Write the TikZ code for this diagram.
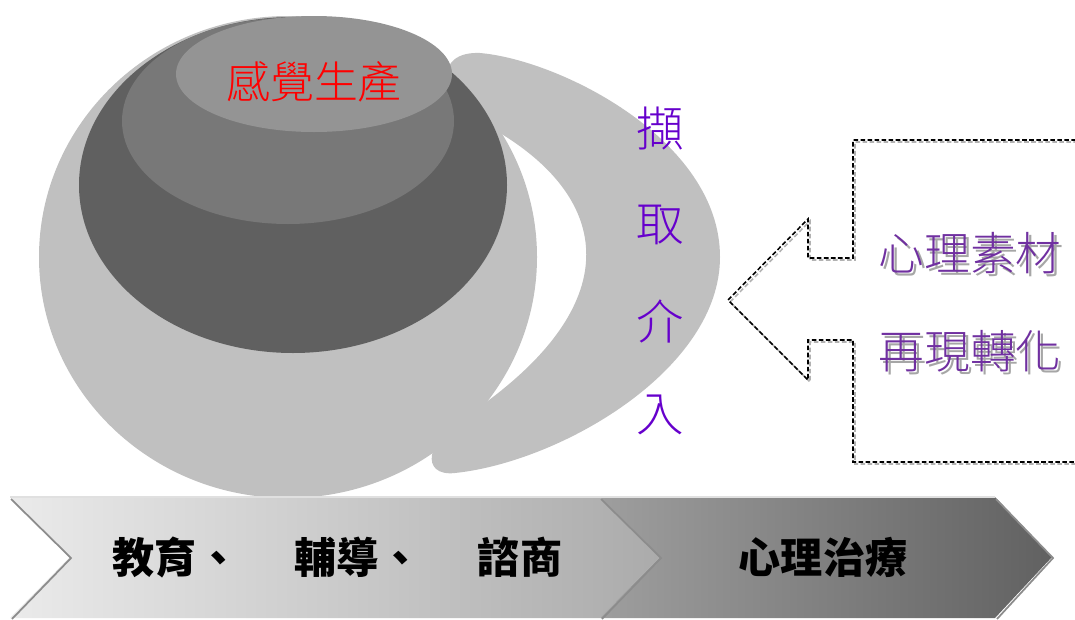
\documentclass[tikz,border=0pt]{standalone}
\usepackage{fontspec}
\newfontfamily\cjk{Noto Sans CJK TC}
\newfontfamily\cjklight{Noto Sans CJK TC Light}
\definecolor{cupgrey}{HTML}{C0C0C0}
\definecolor{darkgrey}{HTML}{606060}
\definecolor{midgrey}{HTML}{787878}
\definecolor{topgrey}{HTML}{949494}
\definecolor{vpurple}{HTML}{6600CC}
\definecolor{rpurple}{HTML}{7030A0}
\begin{document}
\begin{tikzpicture}[x=0.02cm,y=-0.02cm,
  vtext/.style={font=\cjklight\fontsize{27pt}{27pt}\selectfont, text=vpurple, inner sep=0pt},
  rtext/.style={font=\cjklight\fontsize{26pt}{26pt}\selectfont, inner sep=0pt},
  btext/.style={font=\cjk\bfseries\fontsize{24pt}{24pt}\selectfont, text=black, inner sep=0pt},
  dashline/.style={line width=0.9pt, dash pattern=on 2.6pt off 1.4pt},
  chevshadow/.style={draw=black!45, line width=1pt}]
\useasboundingbox (0,0) rectangle (1075,619);
\clip (0,0) rectangle (1075,619);

% handle
\fill[cupgrey] (447,85) .. controls (443,62) and (458,52) .. (480,53)
  .. controls (560,60) and (720,140) .. (720,257)
  .. controls (720,370) and (560,462) .. (455,473)
  .. controls (437,475) and (430,466) .. (432,455)
  -- (440,425) -- (485,403)
  .. controls (625,300) and (610,200) .. (500,133) -- cycle;
% cup body
\fill[cupgrey] (288,257) ellipse [x radius=249, y radius=241];
\fill[darkgrey] (293,185) ellipse [x radius=214, y radius=168];
\fill[midgrey] (288,121) ellipse [x radius=166, y radius=103];
\fill[topgrey] (314,74) ellipse [x radius=138, y radius=58];

\node[font=\cjklight\fontsize{25pt}{25pt}\selectfont, text=red, inner sep=0pt] (sense) at (314,82) {感覺生產};

% vertical text
\node[vtext] (c1) at (660,128) {擷};
\node[vtext] (c2) at (660,225) {取};
\node[vtext] (c3) at (660,321) {介};
\node[vtext] (c4) at (660,415) {入};

% dashed callout arrow (shadow then line)
\draw[dashline, black!30, shift={(2,2)}] (1090,140) -- (853,140) -- (853,258) -- (808,258) -- (808,219) -- (728,300) -- (808,380) -- (808,340) -- (853,340) -- (853,462) -- (1090,462);
\draw[dashline, black] (1090,140) -- (853,140) -- (853,258) -- (808,258) -- (808,219) -- (728,300) -- (808,380) -- (808,340) -- (853,340) -- (853,462) -- (1090,462);

\node[rtext, text=black!35] at (973,256) {心理素材};
\node[rtext, text=rpurple] (m1) at (970,253) {心理素材};
\node[rtext, text=black!35] at (973,354) {再現轉化};
\node[rtext, text=rpurple] (m2) at (970,351) {再現轉化};

% chevrons
\shade[left color=black!8, right color=black!33] (10,497) -- (600,497) -- (660,557) -- (600,618) -- (10,618) -- (70,557) -- cycle;
\shade[left color=black!38, right color=black!62] (600,497) -- (995,497) -- (1052,557) -- (995,618) -- (600,618) -- (660,557) -- cycle;
\draw[chevshadow] (601,499) -- (661,558) -- (602,619);
\draw[chevshadow] (996,499) -- (1053,558) -- (997,619);
\draw[chevshadow] (11,499) -- (71,558) -- (12,619);
\draw[black!12, line width=1.2pt] (10,497) -- (995,497);

\node[btext] (b1) at (176,557) {教育、};
\node[btext] (b2) at (358,557) {輔導、};
\node[btext] (b3) at (520,557) {諮商};
\node[btext] (b4) at (823,557) {心理治療};
\end{tikzpicture}
\end{document}
